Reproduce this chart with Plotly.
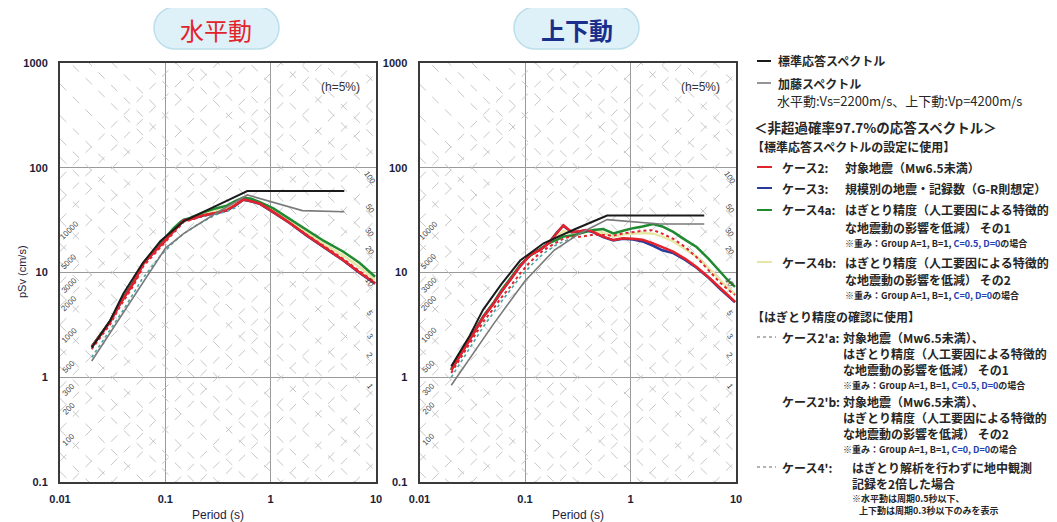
import numpy as np
import plotly.graph_objects as go

W, H = 1057, 522
OFF = 8  # page body margin of the rendered html

# ---------------- data ----------------
# Standard response spectrum (標準応答スペクトル)
STD_T = [0.02, 0.03, 0.04, 0.06, 0.09, 0.15, 0.30, 0.60, 5.00]
STD_H = [1.91, 3.5, 6.3, 12.0, 20.0, 31.0, 43.0, 60.0, 60.0]
STD_V = [1.273, 2.5, 4.4, 7.8, 13.0, 19.0, 26.0, 35.0, 35.0]

# Kato spectrum (加藤スペクトル)
KATO_T_H = [0.02, 0.05, 0.1, 0.15, 0.3, 0.6, 2.0, 5.0]
KATO_H = [1.43, 5.8, 17.0, 23.6, 36.6, 55.0, 39.0, 38.0]
KATO_T_V = [0.02, 0.05, 0.1, 0.19, 0.33, 0.6, 1.9, 5.0]
KATO_V = [0.84, 3.2, 8.3, 16.4, 23.6, 32.0, 29.0, 29.0]

# Horizontal cases
H_T = [0.02, 0.03, 0.037, 0.05, 0.062, 0.08, 0.096, 0.12, 0.14, 0.15, 0.17, 0.23, 0.3, 0.383,
       0.46, 0.55, 0.65, 0.79, 1.06, 1.5, 2.2, 3.2, 4.9, 7.0, 9.8]
H_CASE2 = [1.95, 3.4, 5.0, 8.0, 12.2, 16.0, 19.6, 25.0, 29.5, 31.6, 32.0, 35.3, 37.0, 39.4,
           44.0, 49.9, 48.0, 45.6, 37.9, 30.0, 22.7, 17.5, 13.1, 10.0, 7.9]
H_CASE3 = [1.95, 3.4, 5.0, 8.0, 12.2, 16.0, 19.6, 25.0, 29.5, 31.6, 32.0, 35.0, 36.8, 39.0,
           43.5, 49.5, 47.8, 45.2, 37.5, 29.8, 22.5, 17.3, 13.0, 9.9, 7.8]
H_CASE4A = [1.97, 3.45, 5.1, 8.2, 12.5, 16.8, 20.5, 26.5, 30.5, 32.0, 33.0, 37.5, 40.9, 43.5,
            48.0, 52.0, 50.5, 47.0, 40.9, 32.5, 25.5, 20.0, 15.8, 12.3, 9.1]
H_CASE4B = [1.96, 3.42, 5.05, 8.1, 12.3, 16.4, 20.0, 25.8, 30.0, 31.8, 32.5, 36.5, 39.0, 41.5,
            46.0, 51.0, 49.5, 46.3, 39.5, 31.2, 24.0, 18.7, 14.5, 11.2, 8.5]
H_CASE2A = [1.85, 3.2, 4.7, 7.5, 11.5, 15.2, 18.8, 24.0, 28.5, 30.5, 31.5, 34.5, 36.5, 39.0,
            43.5, 49.0, 47.5, 45.0, 37.5, 29.8, 22.8, 17.8, 13.5, 10.3, 8.1]
H_T4P = [0.02, 0.03, 0.04, 0.06, 0.09, 0.12, 0.15, 0.2, 0.3, 0.4, 0.5]
H_CASE4P = [1.55, 2.9, 4.4, 8.6, 14.5, 19.5, 23.5, 28.5, 35.5, 39.0, 43.0]

# Vertical cases
V_T = [0.02, 0.03, 0.0404, 0.05, 0.06, 0.0723, 0.09, 0.112, 0.14, 0.167, 0.2, 0.231, 0.255, 0.277,
       0.33, 0.38, 0.445, 0.55, 0.688, 0.85, 1.06, 1.3, 1.64, 2.0, 2.54, 3.3, 4.23, 5.5, 7.05, 8.5, 9.8]
V_CASE2 = [1.17, 2.3, 3.78, 5.0, 6.6, 8.46, 11.5, 14.7, 16.5, 19.0, 24.0, 28.3, 26.0, 24.4,
           24.8, 25.5, 24.4, 22.0, 20.4, 21.2, 21.0, 20.5, 19.0, 17.5, 15.8, 13.5, 11.3, 9.0, 7.05, 6.0, 5.25]
V_CASE3 = [1.17, 2.3, 3.78, 5.0, 6.6, 8.46, 11.5, 14.7, 16.5, 19.0, 24.0, 28.0, 25.8, 24.2,
           24.6, 25.3, 24.2, 21.8, 20.2, 21.0, 20.6, 19.8, 18.0, 16.3, 15.3, 13.2, 11.1, 8.9, 7.0, 5.9, 5.2]
V_CASE4A = [1.2, 2.35, 3.85, 5.1, 6.8, 8.7, 11.8, 14.5, 16.8, 19.0, 20.5, 22.0, 22.3, 22.5,
            23.5, 24.5, 25.5, 26.0, 23.6, 25.0, 26.5, 27.5, 29.0, 27.5, 24.4, 20.5, 17.5, 13.5, 10.2, 8.3, 7.3]
V_CASE4B = [1.18, 2.32, 3.8, 5.05, 6.7, 8.6, 11.6, 14.6, 16.6, 19.0, 22.0, 25.0, 24.0, 23.5,
            24.0, 25.0, 25.0, 24.0, 22.0, 23.0, 23.5, 23.8, 23.5, 22.0, 19.8, 16.8, 14.2, 11.0, 8.5, 7.0, 6.2]
V_CASE2A = [1.1, 2.1, 3.4, 4.5, 5.8, 7.3, 9.8, 12.6, 15.5, 17.5, 19.5, 21.0, 21.7, 21.9,
            21.9, 22.5, 23.0, 22.8, 22.5, 23.6, 24.5, 25.0, 25.4, 23.5, 21.0, 17.5, 14.0, 10.5, 8.0, 6.8, 6.1]
V_T4P = [0.02, 0.03, 0.04, 0.06, 0.09, 0.12, 0.15, 0.2, 0.3]
V_CASE4P = [1.0, 1.9, 3.0, 5.3, 9.0, 12.3, 15.2, 18.5, 22.0]

# tripartite grid
SA_LEVELS = [m * 10 ** e for e in range(-2, 5) for m in (1, 2, 3, 5)]
SD_LEVELS = [m * 10 ** e for e in range(-4, 4) for m in (1, 2, 3, 5)]
SA_LABELS = [10000, 5000, 3000, 2000, 1000, 500, 300, 200, 100]
SD_LABELS = [100, 50, 30, 20, 10, 5, 3, 2, 1]

X_TICKS = [0.01, 0.1, 1, 10]
X_TICKTEXT = ["0.01", "0.1", "1", "10"]
Y_TICKS = [0.1, 1, 10, 100, 1000]
Y_TICKTEXT = ["0.1", "1", "10", "100", "1000"]

PANEL_TITLES = ["水平動", "上下動"]

# ---------------- styles ----------------
C_RED = "#e3232b"
C_BLUE = "#283a9a"
C_GREEN = "#1f8a30"
C_YEL = "#e6e6a6"
C_BLACK = "#1b1b1b"
C_GRAY = "#7a7a7a"
C_TEAL = "#4aa5a5"
JP = "Noto Sans CJK JP"
LAT = "Liberation Sans"

fig = go.Figure()


def px2paper(x, y):
    return (x - OFF) / W, 1 - (y - OFF) / H


PANELS = [
    dict(x0=60, x1=376, xa="x", ya="y"),
    dict(x0=419.5, x1=736, xa="x2", ya="y2"),
]
PY0, PY1 = 63, 482

Tgrid = np.array([0.01, 10.0])
GRID_DIAG = dict(color="#c0c0c0", width=0.9, dash="dash")

for p in PANELS:
    for sa in SA_LEVELS:
        fig.add_trace(go.Scatter(x=Tgrid, y=sa * Tgrid / (2 * np.pi), mode="lines",
                                 line=GRID_DIAG, hoverinfo="skip", showlegend=False,
                                 xaxis=p["xa"], yaxis=p["ya"]))
    for sd in SD_LEVELS:
        fig.add_trace(go.Scatter(x=Tgrid, y=2 * np.pi * sd / Tgrid, mode="lines",
                                 line=GRID_DIAG, hoverinfo="skip", showlegend=False,
                                 xaxis=p["xa"], yaxis=p["ya"]))


def add_line(x, y, color, width, panel, dash="solid"):
    p = PANELS[panel]
    fig.add_trace(go.Scatter(x=x, y=y, mode="lines", line=dict(color=color, width=width, dash=dash),
                             showlegend=False, xaxis=p["xa"], yaxis=p["ya"]))


# horizontal
add_line(H_T, H_CASE4B, C_YEL, 2.5, 0)
add_line(H_T, H_CASE4A, C_GREEN, 2.5, 0)
add_line(H_T, H_CASE3, C_BLUE, 2.5, 0)
add_line(H_T, H_CASE2, C_RED, 2.5, 0)
add_line(H_T, H_CASE2A, C_RED, 1.8, 0, "dot")
add_line(H_T4P, H_CASE4P, C_TEAL, 1.6, 0, "dot")
add_line(KATO_T_H, KATO_H, C_GRAY, 1.6, 0)
add_line(STD_T, STD_H, C_BLACK, 2.0, 0)
# vertical
add_line(V_T, V_CASE4B, C_YEL, 2.5, 1)
add_line(V_T, V_CASE4A, C_GREEN, 2.5, 1)
add_line(V_T, V_CASE3, C_BLUE, 2.5, 1)
add_line(V_T, V_CASE2, C_RED, 2.5, 1)
add_line(V_T, V_CASE2A, C_RED, 2.0, 1, "dot")
add_line(V_T4P, V_CASE4P, C_TEAL, 1.6, 1, "dot")
add_line(KATO_T_V, KATO_V, C_GRAY, 1.6, 1)
add_line(STD_T, STD_V, C_BLACK, 2.0, 1)

annotations = []
shapes = []

axis_common = dict(type="log", showgrid=True, gridcolor="#9a9a9a", gridwidth=1,
                   showline=True, linecolor="#3a3a3a", linewidth=2, mirror=True,
                   zeroline=False, ticks="", automargin=False,
                   tickfont=dict(family=LAT, size=11, color="#1c1c3a", weight="bold"))

layout_axes = {}
for i, p in enumerate(PANELS):
    sx = "" if i == 0 else "2"
    xd0, _ = px2paper(p["x0"], 0)
    xd1, _ = px2paper(p["x1"], 0)
    _, yd0 = px2paper(0, PY1)
    _, yd1 = px2paper(0, PY0)
    layout_axes["xaxis" + sx] = dict(axis_common, domain=[xd0, xd1], range=[-2, 1],
                                      tickvals=X_TICKS, ticktext=X_TICKTEXT, anchor="y" + sx,
                                      ticklabelstandoff=6)
    layout_axes["yaxis" + sx] = dict(axis_common, domain=[yd0, yd1], range=[-1, 3],
                                      tickvals=Y_TICKS, ticktext=Y_TICKTEXT, anchor="x" + sx,
                                      ticklabelstandoff=8)
    xr = "x" + sx
    yr = "y" + sx
    for sa in SA_LABELS:
        t = 0.0122
        v = sa * t / (2 * np.pi) * 1.3
        annotations.append(dict(x=np.log10(t), y=np.log10(v), xref=xr, yref=yr, text=str(sa),
                                showarrow=False, textangle=-45, xanchor="center", yanchor="middle",
                                font=dict(family=LAT, size=8, color="#444")))
    for sd in SD_LABELS:
        t = 8.7
        v = 2 * np.pi * sd / t * 1.12
        annotations.append(dict(x=np.log10(t), y=np.log10(v), xref=xr, yref=yr, text=str(sd),
                                showarrow=False, textangle=55, xanchor="center", yanchor="middle",
                                font=dict(family=LAT, size=8, color="#444")))
    annotations.append(dict(x=np.log10(4.6), y=np.log10(590), xref=xr, yref=yr, text="(h=5%)",
                            showarrow=False, xanchor="center", yanchor="middle",
                            font=dict(family=LAT, size=12, color="#333")))
    cx = (p["x0"] + p["x1"]) / 2
    ax_, ay_ = px2paper(cx, 515)
    annotations.append(dict(x=ax_, y=ay_, xref="paper", yref="paper", text="Period (s)",
                            showarrow=False, xanchor="center", yanchor="middle",
                            font=dict(family=LAT, size=12, color="#1c1c3a")))

ax_, ay_ = px2paper(22, 272)
annotations.append(dict(x=ax_, y=ay_, xref="paper", yref="paper", text="pSv (cm/s)",
                        showarrow=False, textangle=-90, xanchor="center", yanchor="middle",
                        font=dict(family=LAT, size=11, color="#1c1c3a")))


def pill_path(x0, y0, x1, y1):
    r = (y1 - y0) / 2
    k = 0.5523 * r
    ym = (y0 + y1) / 2
    pts = [
        ("M", [(x0 + r, y0)]),
        ("L", [(x1 - r, y0)]),
        ("C", [(x1 - r + k, y0), (x1, ym - k), (x1, ym)]),
        ("C", [(x1, ym + k), (x1 - r + k, y1), (x1 - r, y1)]),
        ("L", [(x0 + r, y1)]),
        ("C", [(x0 + r - k, y1), (x0, ym + k), (x0, ym)]),
        ("C", [(x0, ym - k), (x0 + r - k, y0), (x0 + r, y0)]),
    ]
    s = ""
    for cmd, ps in pts:
        s += cmd + " " + " ".join("%.5f,%.5f" % px2paper(a, b) for a, b in ps) + " "
    return s + "Z"


PILLS = [(154, 7, 279, 49, C_RED, "normal", 216), (514, 7, 639, 49, "#1a2f8c", "bold", 577)]
for (x0, y0, x1, y1, col, wt, cx), title in zip(PILLS, PANEL_TITLES):
    shapes.append(dict(type="path", path=pill_path(x0, y0, x1, y1), xref="paper", yref="paper",
                       fillcolor="#dff1f8", line=dict(color="#bcdfec", width=1.5), layer="below"))
    ax_, ay_ = px2paper(cx, 29)
    annotations.append(dict(x=ax_, y=ay_, xref="paper", yref="paper", text=title,
                            showarrow=False, xanchor="center", yanchor="middle",
                            font=dict(family=JP, size=24, color=col, weight=wt)))

# ---------------- legend block ----------------
TXT = "#262626"
BLU = "#2440b0"


def legtext(x, y, text, size=12, bold=True, color=TXT):
    ax_, ay_ = px2paper(x, y)
    annotations.append(dict(x=ax_, y=ay_, xref="paper", yref="paper", text=text,
                            xanchor="left", yanchor="middle", showarrow=False,
                            font=dict(family=JP, size=size, color=color,
                                      weight="bold" if bold else "normal")))


def legline(y, color, dash="solid", width=2.0, x0=757, x1=771):
    a, b = px2paper(x0, y)
    c, d = px2paper(x1, y)
    shapes.append(dict(type="line", x0=a, y0=b, x1=c, y1=d, xref="paper", yref="paper",
                       line=dict(color=color, width=width, dash=dash)))


W1 = "※重み：Group A=1, B=1, <span style='color:%s'>C=0.5, D=0</span>の場合" % BLU
W2 = "※重み：Group A=1, B=1, <span style='color:%s'>C=0, D=0</span>の場合" % BLU
HAG = "はぎとり精度（人工要因による特徴的"
EFF1 = "な地震動の影響を低減） その1"
EFF2 = "な地震動の影響を低減） その2"
TGT = "対象地震（Mw6.5未満）"

legline(61, C_BLACK)
legtext(776, 61, "標準応答スペクトル")
legline(83, C_GRAY, width=1.6)
legtext(776, 83, "加藤スペクトル")
legtext(775, 101, "水平動:Vs=2200m/s、上下動:Vp=4200m/s", size=13, bold=False)
legtext(752, 127, "＜非超過確率97.7%の応答スペクトル＞", size=13.5)
legtext(750, 146, "【標準応答スペクトルの設定に使用】")

legline(167, C_RED, x0=757, x1=772)
legtext(780, 167, "ケース2:")
legtext(843, 167, TGT)
legline(188, C_BLUE, x0=757, x1=772)
legtext(780, 188, "ケース3:")
legtext(843, 188, "規模別の地震・記録数（G-R則想定）")
legline(210, C_GREEN, x0=757, x1=772)
legtext(780, 210, "ケース4a:")
legtext(843, 210, HAG)
legtext(843, 227, EFF1)
legtext(843, 243, W1, size=9)
legline(262, C_YEL, x0=757, x1=772)
legtext(780, 262, "ケース4b:")
legtext(843, 262, HAG)
legtext(843, 279, EFF2)
legtext(843, 295, W2, size=9)

legtext(750, 316, "【はぎとり精度の確認に使用】")
legline(337, "#9a9a9a", dash="dot", width=1.6, x0=757, x1=776)
legtext(780, 337, "ケース2'a:")
legtext(841, 337, TGT + "、")
legtext(841, 353, HAG)
legtext(841, 369, EFF1)
legtext(841, 385, W1, size=9)
legtext(780, 401, "ケース2'b:")
legtext(841, 401, TGT + "、")
legtext(841, 417, HAG)
legtext(841, 433, EFF2)
legtext(841, 449, W2, size=9)
legline(467, "#9a9a9a", dash="dot", width=1.6, x0=757, x1=776)
legtext(780, 467, "ケース4':")
legtext(850, 467, "はぎとり解析を行わずに地中観測")
legtext(850, 483, "記録を2倍した場合")
legtext(850, 498, "※水平動は周期0.5秒以下、", size=9)
legtext(857, 510, "上下動は周期0.3秒以下のみを表示", size=9)

fig.update_layout(
    width=W, height=H, autosize=False,
    margin=dict(l=0, r=0, t=0, b=0, pad=0),
    paper_bgcolor="white", plot_bgcolor="white",
    showlegend=False,
    annotations=annotations, shapes=shapes,
    **layout_axes,
)

fig.write_html("out.html")
